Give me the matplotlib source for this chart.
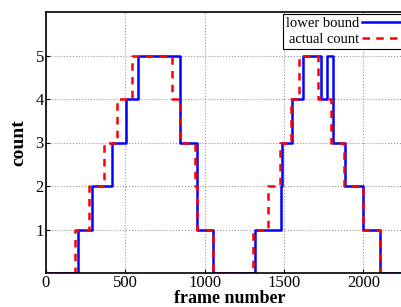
import numpy as np
import matplotlib
matplotlib.use("Agg")
import matplotlib.pyplot as plt

plt.rcParams['font.family'] = ['Liberation Serif', 'DejaVu Serif']

# step change points (frame number) and the count that holds from there on
lb_frames = [0, 200, 288, 418, 502, 582, 845, 950, 1050, 1317, 1479, 1489, 1548,
             1617, 1731, 1769, 1806, 1884, 1995, 2105, 2400]
lb_count = [0, 1, 2, 3, 4, 5, 3, 1, 0, 1, 2, 3, 4, 5, 4, 5, 3, 2, 1, 0, 0]

ac_frames = [0, 183, 271, 367, 445, 540, 792, 845, 939, 950, 1050, 1307, 1401,
             1474, 1542, 1594, 1712, 1796, 1880, 2000, 2105, 2400]
ac_count = [0, 1, 2, 3, 4, 5, 4, 3, 2, 1, 0, 1, 2, 3, 4, 5, 4, 3, 2, 1, 0, 0]

xticks = [0, 500, 1000, 1500, 2000]
yticks = [1, 2, 3, 4, 5]

fig = plt.figure(figsize=(4.01, 3.07), dpi=100)
ax = fig.add_axes([46/401, 34/307, 367/401, 261/307])

ax.plot(lb_frames, lb_count, drawstyle='steps-post', color='#0000ff', lw=1.8,
        label='lower bound')
ax.plot(ac_frames, ac_count, drawstyle='steps-post', color='#ff0000', lw=1.8,
        ls=(0, (3, 2.5)), label='actual count')

ax.set_xlim(0, 2313)
ax.set_ylim(0, 6)
ax.set_xticks(xticks)
ax.set_yticks(yticks)
ax.tick_params(direction='in', labelsize=12, length=3, pad=1.5)
for s in ax.spines.values():
    s.set_linewidth(1.2)
ax.grid(True, ls=':', color='#999999', lw=0.8)
ax.set_xlabel('frame number', fontsize=13, fontweight='bold', labelpad=-0.5)
ax.set_ylabel('count', fontsize=14, fontweight='bold', labelpad=6)

leg = ax.legend(loc='upper left', bbox_to_anchor=(0.646, 0.992), markerfirst=False,
                fontsize=10.5, fancybox=False, edgecolor='black', framealpha=1,
                handlelength=3.2, borderaxespad=0, borderpad=0.2, labelspacing=0.15,
                handletextpad=0.2)
leg.get_frame().set_linewidth(0.8)

fig.savefig('out.png', dpi=100)
